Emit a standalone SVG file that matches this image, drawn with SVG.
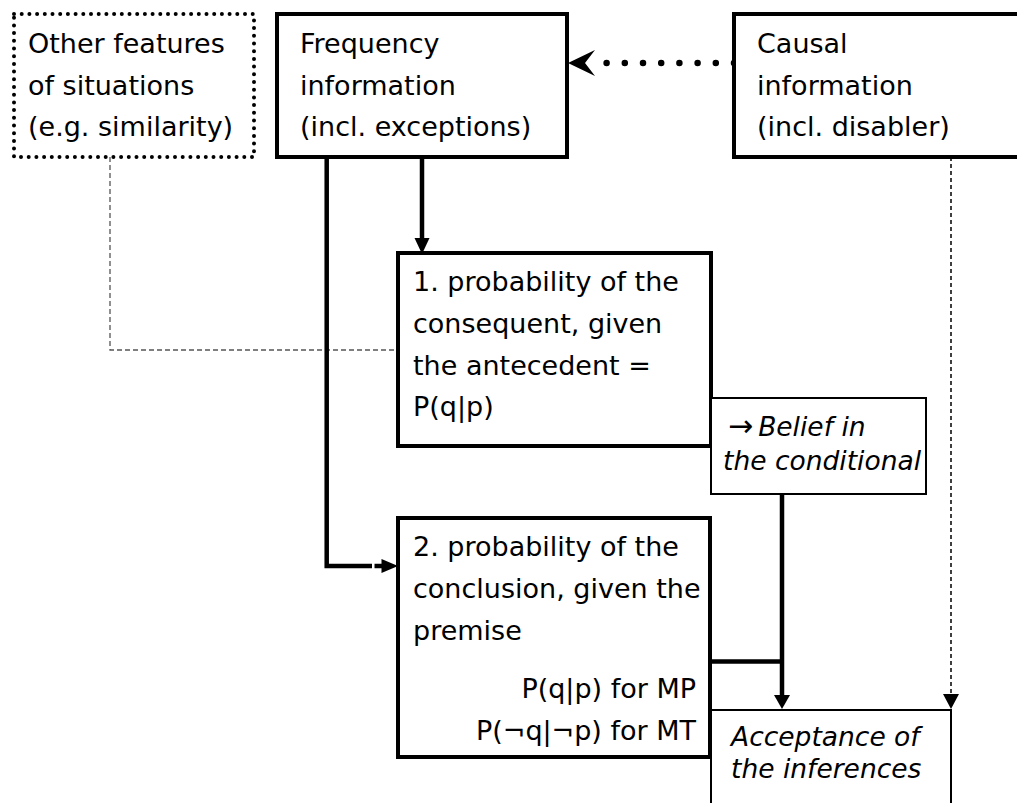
<svg xmlns="http://www.w3.org/2000/svg" width="1017" height="803" viewBox="0 0 1017 803">
<style>
text{font-family:"DejaVu Sans","Liberation Sans",sans-serif;font-size:27px;fill:#000}
.it{font-style:italic;font-size:26.5px}
.thick{fill:#fff;stroke:#000;stroke-width:4}
.thin{fill:#fff;stroke:#000;stroke-width:2}
.conn{fill:none;stroke:#000;stroke-width:4.5}
.dash{fill:none;stroke:#000;stroke-width:1.5;stroke-dasharray:4 3}
.dashg{fill:none;stroke:#555;stroke-width:1.3;stroke-dasharray:5 3}
.head{fill:#000;stroke:none}
</style>
<rect width="1017" height="803" fill="#fff"/>
<g id="connectors">
  <path class="dashg" d="M110,157 V350 H398"/>
  <path class="dash" d="M951,157 V695"/>
  <polygon class="head" points="943,694 959,694 951,709"/>
  <path class="conn" d="M422,157 V240"/>
  <polygon class="head" points="414.5,238 429.5,238 422,254"/>
  <path class="conn" d="M326.7,157 V566 H372"/>
  <path class="conn" d="M374.5,566 H384"/>
  <polygon class="head" points="381.5,559 381.5,573 398,566"/>
  <path class="conn" d="M782,494 V697"/>
  <path class="conn" d="M710,661.5 H782"/>
  <polygon class="head" points="774,695 790,695 782,709"/>
  <path fill="none" stroke="#000" stroke-width="6.5" stroke-linecap="round" stroke-dasharray="0 18.2" d="M734,63 H600"/>
  <path class="head" d="M568,63 L595,50 L585,63 L595,76 Z"/>
</g>
<g id="other">
  <rect x="14" y="14" width="240" height="143" fill="#fff" stroke="#000" stroke-width="4" stroke-linecap="round" stroke-dasharray="0 7.7"/>
  <text x="28" y="53">Other features</text>
  <text x="28" y="94.5">of situations</text>
  <text x="28" y="136">(e.g. similarity)</text>
</g>
<g id="frequency">
  <rect class="thick" x="277" y="14" width="290" height="143"/>
  <text x="300" y="53">Frequency</text>
  <text x="300" y="94.5">information</text>
  <text x="300" y="136">(incl. exceptions)</text>
</g>
<g id="causal">
  <rect class="thick" x="734" y="14" width="300" height="143"/>
  <text x="757" y="53">Causal</text>
  <text x="757" y="94.5">information</text>
  <text x="757" y="136">(incl. disabler)</text>
</g>
<g id="box1">
  <rect class="thick" x="398" y="253" width="313" height="193"/>
  <text x="413" y="291">1. probability of the</text>
  <text x="413" y="333">consequent, given</text>
  <text x="413" y="374.5">the antecedent =</text>
  <text x="413" y="416">P(q|p)</text>
</g>
<g id="belief">
  <rect class="thin" x="711" y="398" width="215" height="96"/>
  <text class="it" x="728" y="436"><tspan font-style="normal" font-size="30">→</tspan><tspan dx="5">Belief in</tspan></text>
  <text class="it" x="723" y="470">the conditional</text>
</g>
<g id="box2">
  <rect class="thick" x="398" y="518" width="312" height="239"/>
  <text x="413" y="556">2. probability of the</text>
  <text x="413" y="598">conclusion, given the</text>
  <text x="413" y="639.5">premise</text>
  <text x="696" y="698" text-anchor="end">P(q|p) for MP</text>
  <text x="696" y="740" text-anchor="end">P(¬q|¬p) for MT</text>
</g>
<g id="acceptance">
  <path fill="#fff" stroke="#000" stroke-width="2" d="M711,810 V710 H951 V810"/>
  <text class="it" x="731" y="746">Acceptance of</text>
  <text class="it" x="731" y="778">the inferences</text>
</g>
</svg>
